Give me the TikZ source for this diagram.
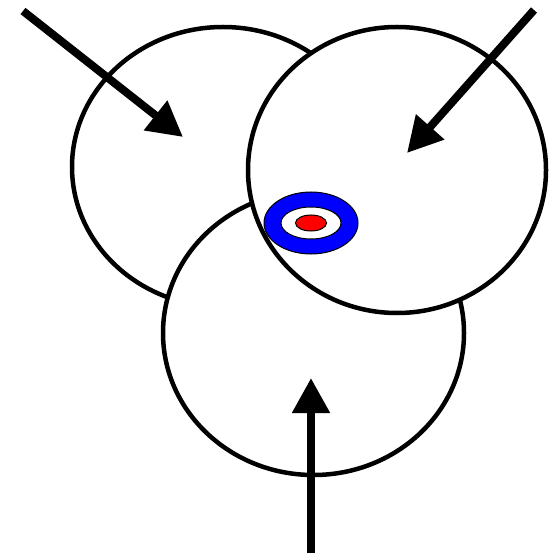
\documentclass[tikz,border=0pt]{standalone}
\usetikzlibrary{shapes.geometric,arrows.meta}
\begin{document}
\begin{tikzpicture}[x=1pt,y=-1pt,
  ring/.style={ellipse,draw=black,fill=white,line width=4.5pt,inner sep=0pt,outer sep=0pt},
  tgt/.style={ellipse,draw=black,line width=1pt,inner sep=0pt,outer sep=0pt},
  bigarrow/.style={line width=8pt,-{Triangle[length=35pt,width=36pt]}}]
\useasboundingbox (0,0) rectangle (548,553);
\node[ring,minimum width=302pt,minimum height=280pt] (left) at (223,167) {};
\node[ring,minimum width=301pt,minimum height=284pt] (bottom) at (313.5,333) {};
\node[ring,minimum width=298pt,minimum height=286pt] (right) at (397,170) {};
\node[tgt,fill=blue,minimum width=94pt,minimum height=62pt] (outer) at (311,223) {};
\node[tgt,fill=white,minimum width=60pt,minimum height=32pt] (mid) at (311,223) {};
\node[tgt,fill=red,minimum width=31pt,minimum height=16pt] (inner) at (311,223) {};
\coordinate (a1s) at (23,11);
\coordinate (a1e) at (183,137);
\coordinate (a2s) at (534,10);
\coordinate (a2e) at (407,153);
\coordinate (a3s) at (311,553);
\coordinate (a3e) at (311,378);
\draw[bigarrow] (a1s) -- (a1e);
\draw[bigarrow] (a2s) -- (a2e);
\draw[bigarrow] (a3s) -- (a3e);
\end{tikzpicture}
\end{document}
